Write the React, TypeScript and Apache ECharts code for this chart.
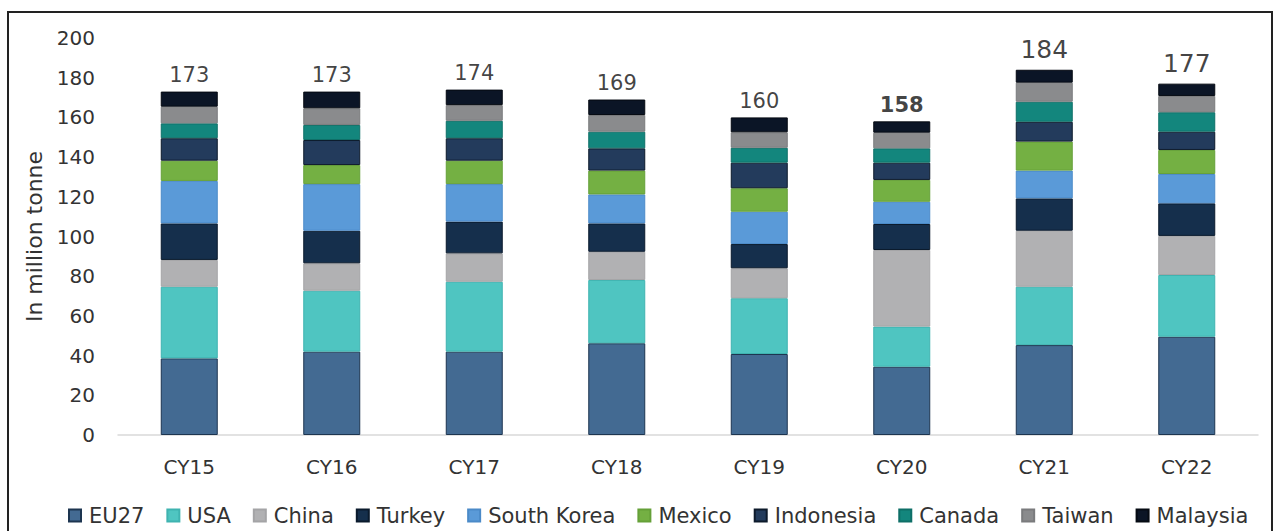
import React, { useEffect, useRef } from "react";
import * as echarts from "echarts";

const categories = ["CY15", "CY16", "CY17", "CY18", "CY19", "CY20", "CY21", "CY22"];
const seriesNames = ["EU27", "USA", "China", "Turkey", "South Korea", "Mexico", "Indonesia", "Canada", "Taiwan", "Malaysia"];

const eu27 = [38.6, 42.0, 42.0, 46.2, 40.8, 34.4, 45.3, 49.5];
const usa = [36.1, 30.7, 35.2, 31.9, 28.1, 20.2, 29.4, 31.1];
const china = [13.5, 13.8, 14.3, 14.2, 15.1, 38.6, 28.2, 19.7];
const turkey = [18.4, 16.4, 16.0, 14.3, 12.2, 13.1, 16.3, 16.4];
const southKorea = [21.4, 23.5, 18.9, 14.6, 16.3, 11.2, 14.0, 14.8];
const mexico = [10.2, 9.6, 11.8, 12.0, 11.8, 11.0, 14.6, 12.1];
const indonesia = [11.3, 12.6, 11.3, 11.2, 12.9, 8.7, 10.0, 9.2];
const canada = [7.5, 7.6, 8.8, 8.4, 7.5, 7.2, 10.1, 9.8];
const taiwan = [8.4, 8.4, 7.9, 8.4, 7.8, 7.9, 9.6, 8.2];
const malaysia = [7.6, 8.4, 7.8, 7.8, 7.5, 5.7, 6.5, 6.2];

const totals = [173, 173, 174, 169, 160, 158, 184, 177];
const yTicks = { min: 0, max: 200, interval: 20 };

const seriesValues = [eu27, usa, china, turkey, southKorea, mexico, indonesia, canada, taiwan, malaysia];
const colors = ["#436a92", "#4fc5c1", "#b1b1b3", "#152f4c", "#5a9ad8", "#74b043", "#233b5c", "#13867d", "#8a8b8d", "#0b1526"];
const borders = ["#1d3550", "#3fb3b0", "#a4a4a6", "#0a1a2c", "#4b8ac8", "#65a038", "#0d1a2b", "#0e6f67", "#7a7b7d", "#050a12"];

const FONT = "DejaVu Sans";

export default function App() {
  const ref = useRef<HTMLDivElement>(null);
  useEffect(() => {
    const chart = echarts.init(ref.current!, null, { renderer: "svg" });
    const barSeries = seriesNames.map((name, i) => ({
      name,
      type: "bar",
      stack: "total",
      barWidth: "40%",
      data: seriesValues[i],
      itemStyle: { color: colors[i], borderColor: borders[i], borderWidth: 1 },
    }));
    chart.setOption({
      animation: false,
      backgroundColor: "#ffffff",
      textStyle: { fontFamily: FONT },
      grid: { left: 118, right: 21, top: 38, bottom: 96 },
      legend: {
        data: seriesNames,
        bottom: 0,
        left: 63,
        itemWidth: 12,
        itemHeight: 12,
        itemGap: 22,
        icon: "rect",
        textStyle: { fontFamily: FONT, fontSize: 21, color: "#333333", padding: [0, 0, 0, 3] },
      },
      xAxis: {
        type: "category",
        data: categories,
        axisLine: { lineStyle: { color: "#d9d9d9", width: 1.5 } },
        axisTick: { show: false },
        axisLabel: { fontFamily: FONT, fontSize: 20, color: "#333333", margin: 22 },
      },
      yAxis: {
        type: "value",
        min: yTicks.min,
        max: yTicks.max,
        interval: yTicks.interval,
        name: "In million tonne",
        nameLocation: "middle",
        nameGap: 72,
        nameTextStyle: { fontFamily: FONT, fontSize: 22, color: "#333333" },
        axisLine: { show: false },
        axisTick: { show: false },
        splitLine: { show: false },
        axisLabel: { fontFamily: FONT, fontSize: 20, color: "#333333", margin: 23 },
      },
      series: [
        ...barSeries,
        {
          name: "Total",
          type: "scatter",
          symbolSize: 0,
          data: totals.map((v, i) => ({
            value: v,
            label: {
              fontSize: i >= 6 ? 25 : 21,
              fontWeight: i === 5 ? "bold" : "normal",
              distance: i >= 6 ? 8 : 6,
            },
          })),
          label: {
            show: true,
            position: "top",
            fontFamily: FONT,
            color: "#111111",
            formatter: (p: any) => String(p.value),
          },
          z: 10,
        },
      ],
      graphic: [
        {
          type: "rect",
          shape: { x: 8, y: 12, width: 1264, height: 540 },
          style: { fill: "none", stroke: "#222222", lineWidth: 2 },
          silent: true,
        },
      ],
    });
    return () => chart.dispose();
  }, []);
  return <div ref={ref} style={{ position: "fixed", left: 0, top: 0, width: 1279, height: 531 }} />;
}
